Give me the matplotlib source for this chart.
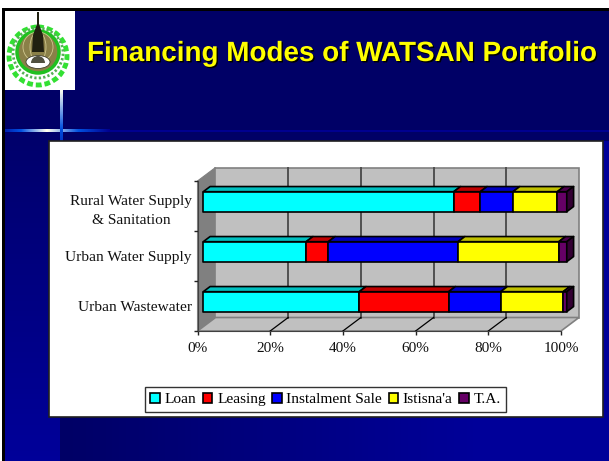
"""Financing Modes of WATSAN Portfolio - slide with 3D style stacked bars"""
import numpy as np
import matplotlib
matplotlib.use('Agg')
import matplotlib.pyplot as plt
import matplotlib.patheffects as pe
from matplotlib.patches import Rectangle, Circle, Polygon, Wedge, Ellipse
from matplotlib.colors import LinearSegmentedColormap

W, H = 609, 461

categories = ['Rural Water Supply\n& Sanitation', 'Urban Water Supply', 'Urban Wastewater']
series = ['Loan', 'Leasing', 'Instalment Sale', "Istisna'a", 'T.A.']
loan = [68.9, 28.3, 42.9]
leasing = [7.3, 6.1, 24.6]
instalment = [9.0, 35.7, 14.3]
istisna = [12.2, 27.7, 17.2]
ta = [2.6, 2.2, 1.0]
x_ticks = [0, 20, 40, 60, 80, 100]
x_labels = ['0%', '20%', '40%', '60%', '80%', '100%']

front_colors = ['#00ffff', '#ff0000', '#0000ff', '#ffff00', '#660066']
top_colors = ['#00c0c0', '#c00000', '#0000c0', '#c0c000', '#4d004d']
side_colors = ['#008080', '#800000', '#000080', '#808000', '#330033']

NAVY = '#000066'
BLUE = '#000099'

plt.rcParams['font.family'] = ['Liberation Serif', 'DejaVu Serif']
fig = plt.figure(figsize=(W / 100, H / 100), dpi=100, facecolor='white')


def px_axes(x0, y0, x1, y1, **kw):
    return fig.add_axes([x0 / W, 1 - y1 / H, (x1 - x0) / W, (y1 - y0) / H], **kw)


def gradient(ax, data, extent, cmap):
    ax.imshow(data, extent=extent, cmap=cmap, aspect='auto', vmin=0, vmax=1, zorder=1)


# slide background, in pixel coordinates
bg = fig.add_axes([0, 0, 1, 1])
bg.axis('off')
grad = LinearSegmentedColormap.from_list('slide', [NAVY, BLUE])
bg.add_patch(Rectangle((5, 11), W - 5, H - 11, fc=NAVY, ec='none'))
gradient(bg, np.linspace(0, 1, 64).reshape(1, -1), (60, 480, H, 141), grad)
bg.add_patch(Rectangle((480, 141), W - 480, H - 141, fc=BLUE, ec='none'))
gradient(bg, np.linspace(0.1, 1, 64).reshape(-1, 1), (5, 60, H, 130), grad)
bg.add_patch(Rectangle((2, 8), W, 3, fc='black', ec='none'))
bg.add_patch(Rectangle((2, 8), 3, H, fc='black', ec='none'))

# cross flare
flare = LinearSegmentedColormap.from_list('flare', ['#000090', '#0050e0', '#fffff0'])
gradient(bg, np.concatenate([np.linspace(0.2, 1, 40), np.linspace(1, 0, 60)]).reshape(1, -1),
         (5, 110, 132, 129.5), flare)
bg.add_patch(Rectangle((110, 129.7), W - 110, 2, fc='#000090', ec='none'))
gradient(bg, np.linspace(1, 0.35, 40).reshape(-1, 1), (60, 63, 141, 90), flare)
bg.set_xlim(0, W)
bg.set_ylim(H, 0)

# logo
bg.add_patch(Rectangle((5, 11), 70, 79, fc='white', ec='none'))
bg.add_patch(Circle((38, 56), 29, fc='white', ec='#33e033', lw=3.5, ls=(0, (1.2, 0.6))))
bg.add_patch(Circle((38, 53), 25, fc='white', ec='#55b055', lw=2, ls=(0, (0.8, 0.8))))
bg.add_patch(Circle((38, 52), 21, fc='#8a8048', ec='#20c020', lw=2.5))
for r in [8, 15]:
    bg.add_patch(Ellipse((38, 47), r * 2, 30, fc='none', ec='#d0c890', lw=0.6))
bg.add_patch(Ellipse((38, 62), 24, 13, fc='white', ec='#404030', lw=0.6))
bg.add_patch(Wedge((38, 63), 7, 180, 360, fc='#505040', ec='none'))
bg.add_patch(Polygon([(37, 24), (37, 12), (39, 12), (39, 24), (43, 35), (44, 52), (32, 52), (33, 35)],
                     fc='#202010', ec='none'))

# white chart panel
bg.add_patch(Rectangle((49, 141), 554, 276, fc='white', ec='#202020', lw=1.2))

# chart, the axes box is the front plane of the 3D plot
ax = px_axes(197.5, 181, 561, 331)
ax.patch.set_alpha(0)
ax.set_xlim(0, 100)
ax.set_ylim(2.5, -0.5)

DEPTH_X = 4.95  # percent units for the full depth
DEPTH_Y = 0.27  # category units for the full depth
BAR_H = 0.4
D0, D1 = 0.32, 0.70

wall = dict(clip_on=False, zorder=1)
ax.add_patch(Polygon([(0, -0.5), (DEPTH_X, -0.5 - DEPTH_Y), (DEPTH_X, 2.5 - DEPTH_Y), (0, 2.5)],
                     fc='#808080', ec='#808080', lw=0.8, **wall))
ax.add_patch(Rectangle((DEPTH_X, -0.5 - DEPTH_Y), 100, 3, fc='#c0c0c0', ec='#808080', lw=1.2, **wall))
ax.add_patch(Polygon([(0, 2.5), (DEPTH_X, 2.5 - DEPTH_Y), (100 + DEPTH_X, 2.5 - DEPTH_Y), (100, 2.5)],
                     fc='#c0c0c0', ec='#808080', lw=1.2, **wall))
for t in x_ticks[1:-1]:
    ax.plot([t + DEPTH_X] * 2, [-0.5 - DEPTH_Y, 2.5 - DEPTH_Y], color='#505050', lw=1.4, clip_on=False, zorder=2)
    ax.plot([t, t + DEPTH_X], [2.5, 2.5 - DEPTH_Y], color='black', lw=0.9, clip_on=False, zorder=2)

y = np.arange(len(categories))
values = [loan, leasing, instalment, istisna, ta]
left = np.zeros(len(categories))
edge = dict(ec='black', lw=1.2, clip_on=False, zorder=3, joinstyle='round')
dx0, dy0 = D0 * DEPTH_X, D0 * DEPTH_Y
dx1, dy1 = D1 * DEPTH_X, D1 * DEPTH_Y
handles = []
for k, vals in enumerate(values):
    for i in y:
        x0 = left[i]
        x1 = left[i] + vals[i]
        top = y[i] - dy0 - BAR_H / 2
        ax.add_patch(Polygon([(x0 + dx0, top), (x1 + dx0, top), (x1 + dx1, top - (dy1 - dy0)),
                              (x0 + dx1, top - (dy1 - dy0))], fc=top_colors[k], **edge))
    bars = ax.barh(y - dy0, vals, left=left + dx0, height=BAR_H, color=front_colors[k],
                   label=series[k], **edge)
    handles.append(bars)
    left = left + np.array(vals)
for i in y:
    # end cap of the stack
    top = y[i] - dy0 - BAR_H / 2
    ax.add_patch(Polygon([(100 + dx0, top), (100 + dx1, top - (dy1 - dy0)),
                          (100 + dx1, top - (dy1 - dy0) + BAR_H), (100 + dx0, top + BAR_H)],
                         fc=side_colors[4], **edge))

for s in ['top', 'right']:
    ax.spines[s].set_visible(False)
for s in ['left', 'bottom']:
    ax.spines[s].set_color('#404040')
    ax.spines[s].set_linewidth(0.8)
    ax.spines[s].set_zorder(2)
ax.set_xticks(x_ticks)
ax.set_xticklabels(x_labels, fontsize=11, color='#111111')
ax.tick_params(axis='x', length=3, width=1, pad=5, color='#222222')
ax.set_yticks(y)
ax.set_yticklabels(categories, fontsize=11.1, color='#111111', linespacing=1.6, multialignment='center')
ax.tick_params(axis='y', length=0, pad=4)
ax.set_yticks([-0.5, 0.5, 1.5, 2.5], minor=True)
ax.tick_params(axis='y', which='minor', length=3, width=1, color='#222222')

leg = ax.legend(handles=handles, loc='center', ncol=5, frameon=True, fancybox=False,
                bbox_to_anchor=(325.5 / W, 1 - 399.5 / H), bbox_transform=fig.transFigure,
                fontsize=11.1, handlelength=0.62, handleheight=0.65, handletextpad=0.3,
                columnspacing=0.42, borderpad=0.36, borderaxespad=0, edgecolor='#333333',
                framealpha=1)
leg.get_frame().set_linewidth(1)
leg.set_zorder(5)

# title
bg.text(87, 61, 'Financing Modes of WATSAN Portfolio', family='Liberation Sans', fontweight='bold',
        fontsize=20.05, color='#ffff00', ha='left', va='baseline',
        path_effects=[pe.withSimplePatchShadow(offset=(1, -1), shadow_rgbFace='black', alpha=1)])

fig.savefig('out.png', dpi=100)
plt.close(fig)
